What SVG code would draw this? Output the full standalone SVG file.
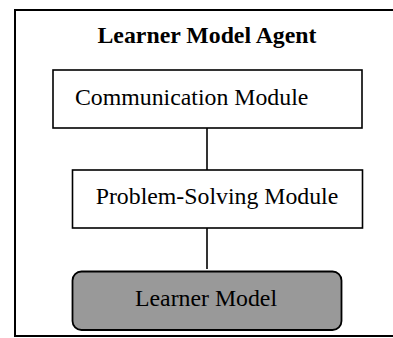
<svg xmlns="http://www.w3.org/2000/svg" width="393" height="338" viewBox="0 0 393 338">
<style>
.box{fill:#fff;stroke:#000;stroke-width:1.6}
.t{font-family:"Liberation Serif","Times New Roman",serif;font-size:23.8px;fill:#000}
.c{stroke:#000;stroke-width:1.6;fill:none}
</style>
<rect width="393" height="338" fill="#fff"/>
<g id="agent">
<path d="M400 10 H15 V336 H400" fill="none" stroke="#000" stroke-width="2"/>
<text class="t" x="207" y="43" text-anchor="middle" font-weight="bold">Learner Model Agent</text>
</g>
<g id="connectors">
<line class="c" x1="207" y1="128" x2="207" y2="170"/>
<line class="c" x1="207" y1="228" x2="207" y2="269"/>
</g>
<g id="communication">
<rect class="box" x="53" y="70" width="309" height="58"/>
<text class="t" x="75" y="105">Communication Module</text>
</g>
<g id="problem-solving">
<rect class="box" x="72.5" y="170" width="290" height="58"/>
<text class="t" x="217" y="203.5" text-anchor="middle">Problem-Solving Module</text>
</g>
<g id="learner-model">
<rect x="72.5" y="271.5" width="269" height="58.5" rx="9" fill="#999" stroke="#000" stroke-width="1.8"/>
<text class="t" x="206" y="306" text-anchor="middle">Learner Model</text>
</g>
</svg>
